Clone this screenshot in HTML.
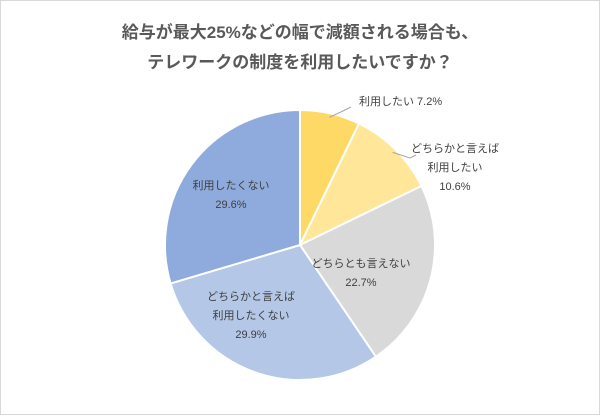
<!DOCTYPE html>
<html><head><meta charset="utf-8"><style>
body{margin:0;background:#fff}
#c{position:relative;width:598px;height:413px;border:1px solid #d9d9d9;background:#fff;font-family:"Liberation Sans","Noto Sans CJK JP",sans-serif}
.t{position:absolute;left:0;width:598px;text-align:center;font-weight:bold;font-size:17px;color:#595959}
</style></head><body>
<div id="c">
<div class="t" style="top:17px">給与が最大25%などの幅で減額される場合も、</div>
<div class="t" style="top:47px">テレワークの制度を利用したいですか？</div>
<svg id="s" width="598" height="413" style="position:absolute;left:0;top:0"></svg>
</div>
<script>
const categories=["利用したい","どちらかと言えば利用したい","どちらとも言えない","どちらかと言えば利用したくない","利用したくない"];
const values=[7.2,10.6,22.7,29.9,29.6];
const valueLabels=["7.2%","10.6%","22.7%","29.9%","29.6%"];
const colors=["#FFD966","#FFE699","#D9D9D9","#B4C7E7","#8FAADC"];
const labelLines=[["利用したい 7.2%"],["どちらかと言えば","利用したい","10.6%"],["どちらとも言えない","22.7%"],["どちらかと言えば","利用したくない","29.9%"],["利用したくない","29.6%"]];
const NS="http://www.w3.org/2000/svg";
const svg=document.getElementById('s');
const cx=299,cy=244,r=135;
const total=values.reduce((a,b)=>a+b,0);
function pt(a,rr){return [cx+rr*Math.sin(a),cy-rr*Math.cos(a)];}
let acc=0;
const mids=[];
values.forEach((v,i)=>{
 const a0=acc/total*2*Math.PI;acc+=v;const a1=acc/total*2*Math.PI;
 mids.push((a0+a1)/2);
 const p0=pt(a0,r),p1=pt(a1,r);
 const p=document.createElementNS(NS,'path');
 p.setAttribute('d',`M${cx},${cy}L${p0[0]},${p0[1]}A${r},${r} 0 ${a1-a0>Math.PI?1:0} 1 ${p1[0]},${p1[1]}Z`);
 p.setAttribute('fill',colors[i]);p.setAttribute('stroke','#fff');p.setAttribute('stroke-width','2');
 
 
 svg.appendChild(p);
});
const lh=19;
labelLines.forEach((lines,i)=>{
 const m=mids[i];let x,y,anchor='middle';
 if(i===0){x=358;y=104;anchor='start';}
 else if(i===1){x=454;y=151;}
 else if(i===2){x=360;y=266;}
 else if(i===3){x=250;y=299;}
 else{x=230;y=188;}
 if(i<2){
  const e=pt(m,r*0.97);const l=document.createElementNS(NS,'polyline');
  const ex=i===0?350:415,ey=i===0?106:154;
  l.setAttribute('points',`${e[0]},${e[1]} ${ex-6},${ey+3} ${ex},${ey}`);
  l.setAttribute('fill','none');l.setAttribute('stroke','#a6a6a6');l.setAttribute('stroke-width','1');
  
  
  svg.appendChild(l);
 }
 lines.forEach((s,j)=>{
  const t=document.createElementNS(NS,'text');
  t.setAttribute('x',x);t.setAttribute('y',y+j*lh);t.setAttribute('text-anchor',anchor);
  t.setAttribute('font-size','11');t.setAttribute('fill','#404040');
  t.setAttribute('font-family','"Liberation Sans","Noto Sans CJK JP",sans-serif');
  t.textContent=s;
  
  
  svg.appendChild(t);
 });
});
</script>
</body></html>
